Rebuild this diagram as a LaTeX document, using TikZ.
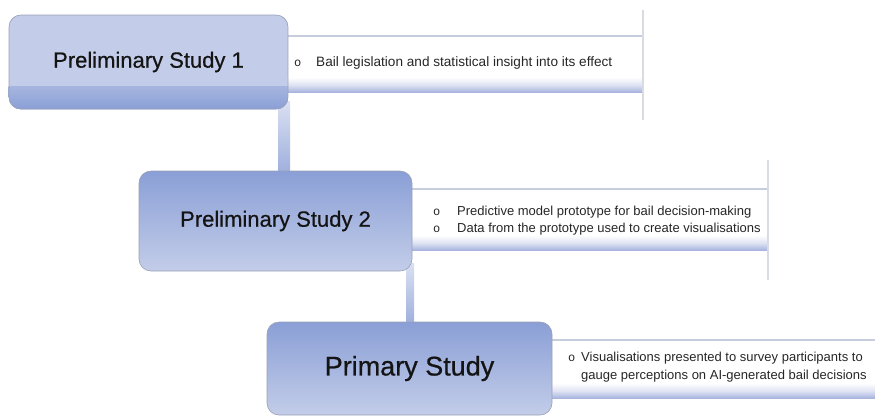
\documentclass[tikz,border=0pt]{standalone}
\usepackage{fontspec}
\setmainfont{Liberation Sans}
\newfontfamily\bulletfont{Liberation Mono}
\newfontfamily\titlefont[FakeBold=0.6]{Liberation Sans}
\usetikzlibrary{backgrounds}

\definecolor{boxlight}{HTML}{C3CDE9}
\definecolor{boxdark}{HTML}{8A9FD6}
\definecolor{bandtop}{HTML}{A6B5DF}
\definecolor{boxedge}{HTML}{9AA1B6}
\definecolor{rulecol}{HTML}{C8CDDD}
\definecolor{bandlow}{HTML}{A7B3DE}
\definecolor{stemtop}{HTML}{DAE0F2}
\definecolor{stembot}{HTML}{9DAEDC}
\definecolor{sidebar}{HTML}{D8DBE4}

\tikzset{
  stagebox/.style={draw=boxedge, line width=0.6pt, rounded corners=12pt,
    inner sep=0pt, text=black!92, font=\titlefont\fontsize{22}{26}\selectfont},
  fadebox/.style={stagebox, top color=boxdark, bottom color=boxlight},
  bandbox/.style={inner sep=0pt},
  bandshade/.style={top color=white, bottom color=bandlow, middle color=bandlow!35},
  bandrule/.style={rulecol, line width=1.4pt},
  notes/.style={inner sep=0pt, anchor=west, align=left,
    font=\fontsize{13}{17}\selectfont, text=black!85},
  stem/.style={top color=stemtop, bottom color=stembot},
  sideline/.style={sidebar, line width=2pt},
}

\newcommand{\bul}[1]{\makebox[#1][l]{\bulletfont\fontsize{12}{17}\selectfont o}}

\begin{document}
\begin{tikzpicture}[x=1pt, y=-1pt]
\useasboundingbox (0,0) rectangle (875,416);

% positions of the vertical stems between stages
\coordinate (s1) at (284,0);
\coordinate (s2) at (410,0);

% note bands to the right of each stage
\node[bandbox, minimum width=355pt, minimum height=56pt] (band1) at (465.5,64) {};
\node[bandbox, minimum width=356pt, minimum height=61pt] (band2) at (590,219.5) {};
\node[bandbox, minimum width=323pt, minimum height=58pt] (band3) at (713.5,369) {};
\foreach \b in {band1,band2,band3}{
  \shade[bandshade] ([yshift=15pt]\b.south west) rectangle (\b.south east);
  \draw[bandrule] (\b.north west) -- (\b.north east);
}

% thin vertical rules closing the bands
\draw[sideline] ([yshift=54pt]band1.east) -- ([yshift=-56pt]band1.east);
\draw[sideline] ([yshift=59.5pt]band2.east) -- ([yshift=-60.5pt]band2.east);

% stage boxes (box1 gets its fill on the background layer)
\node[stagebox, minimum width=279pt, minimum height=94pt] (box1) at (148.5,62) {Preliminary Study 1};
\node[fadebox, minimum width=273pt, minimum height=100pt] (box2) at (275.5,221) {Preliminary Study 2};
\node[fadebox, minimum width=285pt, minimum height=93pt,
  font=\titlefont\fontsize{27}{31}\selectfont] (box3) at (409.5,368.5) {Primary Study};

\begin{pgfonlayer}{background}
  % stems joining the stages
  \shade[stem] ([xshift=-6pt, yshift=8pt]box1.south -| s1)
    rectangle ([xshift=6pt, yshift=-4pt]box2.north -| s1);
  \shade[stem] ([xshift=-4pt, yshift=8pt]box2.south -| s2)
    rectangle ([xshift=4pt, yshift=-4pt]box3.north -| s2);
  % first stage: light face with a darker strip along its base
  \begin{scope}
    \clip[rounded corners=12pt] (box1.south west) rectangle (box1.north east);
    \fill[boxlight] (box1.south west) rectangle (box1.north east);
    \shade[top color=bandtop, bottom color=boxdark]
      ([yshift=23pt]box1.south west) rectangle (box1.south east);
  \end{scope}
\end{pgfonlayer}

% notes
\node[notes, font=\fontsize{13.6}{17}\selectfont] (note1) at (294,63)
  {\bul{22pt}Bail legislation and statistical insight into its effect};
\node[notes] (note2) at (433,220.5)
  {\begin{tabular}{@{}l@{}l@{}}
    \bul{24pt} & Predictive model prototype for bail decision-making\\
    \bul{24pt} & Data from the prototype used to create visualisations
   \end{tabular}};
\node[notes, font=\fontsize{13}{18}\selectfont] (note3) at (568,367)
  {\begin{tabular}{@{}l@{}l@{}}
    \bul{13pt} & Visualisations presented to survey participants to\\
               & gauge perceptions on AI-generated bail decisions
   \end{tabular}};
\end{tikzpicture}
\end{document}
